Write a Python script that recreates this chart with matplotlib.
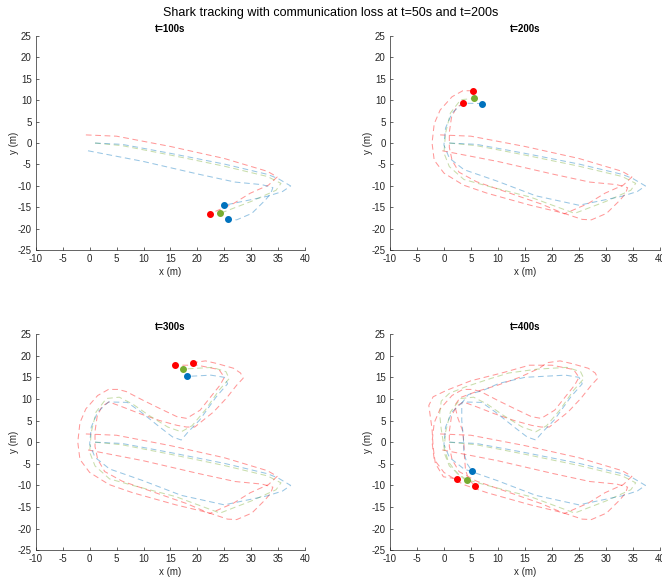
import matplotlib
matplotlib.use("Agg")
import matplotlib.pyplot as plt

plt.rcParams['font.family'] = ['Liberation Sans', 'DejaVu Sans']
plt.rcParams['axes.unicode_minus'] = False

titles = ["t=100s", "t=200s", "t=300s", "t=400s"]

# every path is split in 4 pieces: 0-100s, 100-200s, 200-300s, 300-400s
shark = [
    [(1, 0), (6, -0.3), (15, -2.4), (25, -4.9), (33, -7.3), (35, -8.3), (37.3, -10),
     (35.8, -11.3), (33, -12.4), (25, -14.5)],
    [(17, -12.3), (9.9, -8.9), (3.7, -6.2), (1, -3.5), (0, -0.5), (0.3, 3.5), (1.5, 7),
     (3.5, 9.3), (7, 9.2)],
    [(9.5, 7), (13, 3.5), (15.4, 1.2), (17, 0.5), (18.3, 2.4), (20.4, 5.1), (23.5, 10.5),
     (25.6, 13.5), (25, 15), (22.5, 15.5), (18, 15.2)],
    [(15, 15), (10.2, 13.6), (7.3, 12), (4.5, 11), (3.3, 9), (3.3, 5), (3.6, 1),
     (3.7, -2.5), (4.3, -5), (5.2, -6.7)],
]

centre = [
    [(1, 0), (6, -0.6), (15, -2.8), (25, -5.4), (33, -7.8), (35.5, -9.4), (34.6, -11),
     (30, -13.6), (24.2, -16.4)],
    [(16, -12.6), (8, -10), (3.7, -8.5), (1, -5.5), (0, -2.3), (0.3, 2.3), (1.2, 7),
     (3.1, 10.1), (5.5, 10.4)],
    [(8, 8.8), (11, 6.2), (14.5, 3.5), (17, 2.4), (19, 3.8), (21.5, 7.5), (24, 12),
     (25.9, 14.7), (25.3, 16.3), (22.8, 17.3), (17.3, 16.9)],
    [(12, 16), (8.6, 14.7), (4, 12.8), (1, 11.3), (-0.5, 9.5), (-0.8, 6.5), (-0.5, 3),
     (0, -1), (0.8, -4.5), (2.5, -7.3), (4.3, -8.7)],
]

robot1 = [
    [(-0.7, 1.9), (5, 1.6), (15, -0.8), (25, -3.6), (33, -6.6), (34.8, -7.9), (33.2, -9.8),
     (29.8, -11.7), (26.7, -14.1), (22.3, -16.5)],
    [(18, -14.2), (12, -11.6), (6, -9), (2.8, -6.8), (1.5, -4), (1, -1), (1, 2.5),
     (1.4, 6), (2.3, 8.3), (3.6, 9.3)],
    [(6, 8.2), (9.3, 6.6), (13, 5), (16.2, 3.9), (18, 3.5), (19.5, 3.5), (23, 7),
     (25.4, 10.2), (27.3, 13.2), (28.5, 14.8), (28, 16), (26.7, 17.1), (23.6, 18.2),
     (21.5, 18.8), (19.2, 18.4)],
    [(17.5, 17), (14, 15), (10, 13.2), (6, 11.7), (3, 10.3), (2, 8.5), (2.6, 5.5),
     (3.5, 2.5), (3.7, -0.5), (3.8, -3.4), (4, -6.5), (4.6, -8.6), (5.7, -10.1)],
]

robot2 = [
    [(-0.3, -1.8), (10, -4.3), (20, -7.2), (27, -9.1), (32, -9.7), (34, -10.4),
     (33.6, -11.8), (32.6, -13.3), (30.1, -16.4), (27.3, -17.9), (25.6, -17.8)],
    [(22, -16.3), (16, -14.5), (8, -11.7), (3.6, -9.8), (0, -7), (-1.8, -4), (-2.2, 0),
     (-1.8, 4.5), (-0.7, 7.7), (1.5, 10.8), (3.5, 12.2), (5.3, 12.2)],
    [(6.8, 11.7), (9.9, 9.7), (13, 7.8), (16.2, 5.9), (18, 5.5), (20.5, 7.4), (24.2, 13.2),
     (25, 15), (24, 16.8), (20, 17.8), (15.8, 17.8)],
    [(11, 16.1), (5, 14.2), (0.5, 12), (-2, 10.5), (-2.8, 8.5), (-2.2, 3), (-2, -1.1),
     (-1.6, -4.9), (-0.1, -8), (2.4, -8.5)],
]

blue = '#0072BD'
green = '#77AC30'
red = '#FF0000'
robot2_colour = [blue, red, red, red]   # first panel draws 2nd robot in default blue

# axes boxes in figure fraction [left, bottom, width, height]
boxes = [[0.054, 0.567, 0.407, 0.371], [0.589, 0.567, 0.408, 0.371],
         [0.054, 0.048, 0.407, 0.374], [0.589, 0.048, 0.408, 0.374]]


def upto(segs, k):
    pts = [p for s in segs[:k + 1] for p in s]
    return [p[0] for p in pts], [p[1] for p in pts]


fig = plt.figure(figsize=(6.62, 5.78), dpi=100)
fig.suptitle("Shark tracking with communication loss at t=50s and t=200s",
             y=0.988, fontsize=9, color='#000000')

dash = (0, (5.5, 3.5))
for k in range(4):
    ax = fig.add_axes(boxes[k])
    lines = [(robot1, red), (robot2, robot2_colour[k]), (centre, green), (shark, blue)]
    for path, c in lines:
        x, y = upto(path, k)
        ax.plot(x, y, linestyle=dash, color=c, lw=0.75, alpha=0.4)
    for path, c in lines:
        x, y = upto(path, k)
        ax.plot(x[-1], y[-1], 'o', color=c, ms=4, mec=c, zorder=5)

    ax.set_xlim(-10, 40)
    ax.set_ylim(-25, 25)
    ax.set_xticks(range(-10, 41, 5))
    ax.set_yticks(range(-25, 26, 5))
    ax.tick_params(direction='in', length=2.5, width=0.5, labelsize=7,
                   colors='#262626', pad=3)
    for s in ['top', 'right']:
        ax.spines[s].set_visible(False)
    for s in ['left', 'bottom']:
        ax.spines[s].set_linewidth(0.5)
        ax.spines[s].set_color('#262626')
    ax.set_xlabel("x (m)", fontsize=7, color='#262626', labelpad=2)
    ax.set_ylabel("y (m)", fontsize=7, color='#262626', labelpad=-1)
    ax.set_title(titles[k], fontsize=7, fontweight='bold', pad=3)

plt.savefig("out.png")
